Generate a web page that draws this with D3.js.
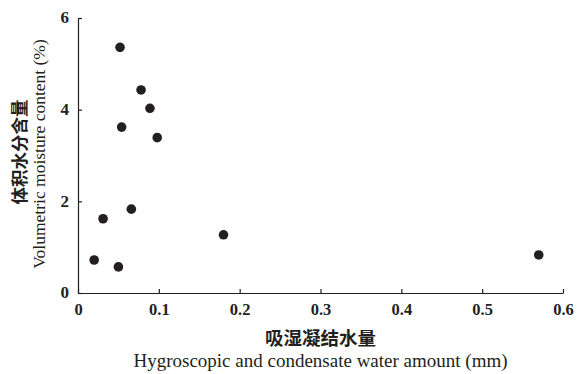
<!DOCTYPE html>
<html>
<head>
<meta charset="utf-8">
<script src="https://cdn.jsdelivr.net/npm/d3@7"></script>
<style>
  body { margin: 0; background: #fff; }
  text { fill: #231f20; }
</style>
</head>
<body>
<div id="chart"></div>
<script>
// hygroscopic and condensate water amount (mm)
var waterAmount = [0.052, 0.078, 0.089, 0.054, 0.098, 0.066, 0.031, 0.020, 0.050, 0.180, 0.570];
// volumetric moisture content (%)
var moisture = [5.36, 4.43, 4.03, 3.62, 3.39, 1.83, 1.62, 0.72, 0.57, 1.27, 0.83];
var xTicks = [0, 0.1, 0.2, 0.3, 0.4, 0.5, 0.6];
var yTicks = [0, 2, 4, 6];

draw_chart();
function draw_chart(){
    var margin = {top: 18, right: 14, bottom: 81, left: 78},
      width = 577 - margin.left - margin.right,
      height = 374 - margin.top - margin.bottom;

    var serif = "'Liberation Serif', 'Times New Roman', serif";
    var cjk = "'Noto Sans CJK SC', sans-serif";

    var svg = d3.select("#chart")
      .append("svg")
      .attr("width", 577)
      .attr("height", 374);
    var g = svg.append("g")
      .attr("transform", "translate(" + margin.left + "," + margin.top + ")");

    var x = d3.scaleLinear().domain([0, 0.6]).range([0, width]);
    var y = d3.scaleLinear().domain([0, 6]).range([height, 0]);

    // x axis, ticks pointing inward
    var xAxis = g.append("g")
      .attr("transform", "translate(0," + height + ")")
      .call(d3.axisBottom(x).tickValues(xTicks).tickSizeInner(-4).tickSizeOuter(0)
            .tickFormat(function(d){ return d === 0 ? "0" : d3.format(".1f")(d); }))
      .attr("font-family", serif);
    xAxis.selectAll("text")
      .attr("y", 10)
      .attr("dy", "0.71em")
      .style("font-family", serif)
      .style("font-size", "16.5px")
      .style("font-weight", "bold");

    var yAxis = g.append("g")
      .call(d3.axisLeft(y).tickValues(yTicks).tickSizeInner(-4).tickSizeOuter(0)
            .tickFormat(d3.format("d")))
      .attr("font-family", serif);
    yAxis.selectAll("text")
      .attr("x", -9)
      .attr("dy", "0.28em")
      .style("font-family", serif)
      .style("font-size", "17px")
      .style("font-weight", "bold");

    svg.selectAll(".domain, .tick line").attr("stroke", "#231f20").attr("stroke-width", 1.2);

    g.selectAll("circle.pt")
      .data(waterAmount)
      .enter()
      .append("circle")
      .attr("class", "pt")
      .attr("cx", function(d){ return x(d); })
      .attr("cy", function(d, i){ return y(moisture[i]); })
      .attr("r", 4.8)
      .attr("fill", "#231f20");

    // axis titles
    svg.append("text")
      .attr("x", margin.left + width / 2)
      .attr("y", 345)
      .attr("text-anchor", "middle")
      .style("font-family", cjk)
      .style("font-size", "18.5px")
      .style("font-weight", "bold")
      .text("吸湿凝结水量");
    svg.append("text")
      .attr("x", margin.left + width / 2)
      .attr("y", 367)
      .attr("text-anchor", "middle")
      .style("font-family", serif)
      .style("font-size", "19px")
      .text("Hygroscopic and condensate water amount (mm)");

    svg.append("text")
      .attr("transform", "translate(26,152) rotate(-90)")
      .attr("text-anchor", "middle")
      .style("font-family", cjk)
      .style("font-size", "17.5px")
      .style("font-weight", "bold")
      .text("体积水分含量");
    svg.append("text")
      .attr("transform", "translate(45,154) rotate(-90)")
      .attr("text-anchor", "middle")
      .style("font-family", serif)
      .style("font-size", "17.5px")
      .text("Volumetric moisture content (%)");
}
</script>
</body>
</html>
